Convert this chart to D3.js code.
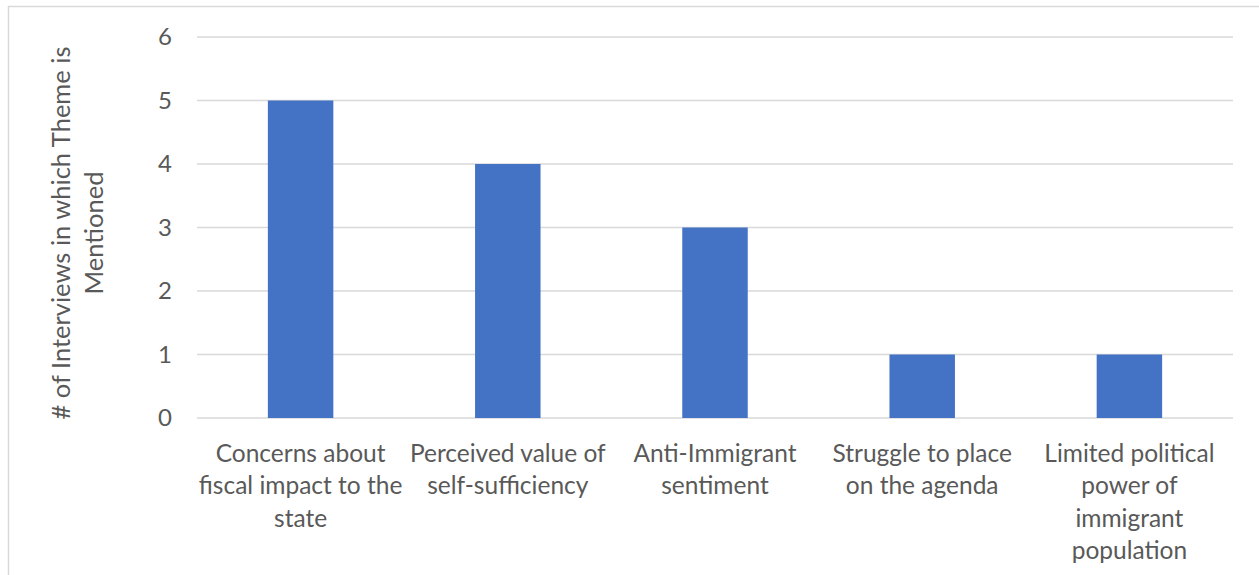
<!DOCTYPE html>
<html>
<head>
<meta charset="utf-8">
<script src="https://cdn.jsdelivr.net/npm/d3@7"></script>
<style>
  html, body { margin: 0; padding: 0; background: #fff; }
  svg { display: block; }
</style>
</head>
<body>
<div id="chart"></div>
<script>
// Chart data
const categories = [
    ['Concerns about', 'fiscal impact to the', 'state'],
    ['Perceived value of', 'self-sufficiency'],
    ['Anti-Immigrant', 'sentiment'],
    ['Struggle to place', 'on the agenda'],
    ['Limited political', 'power of', 'immigrant', 'population']
];
const values = [5, 4, 3, 1, 1];
const yTicks = [0, 1, 2, 3, 4, 5, 6];
const yTitle = ['# of Interviews in which Theme is', 'Mentioned'];

const width = 1259;
const height = 575;
const margin = { top: 37, right: 26, bottom: 157, left: 197 };
const fontFamily = 'Lato, "Open Sans", sans-serif';
const textColor = '#595959';

const svg = d3.select('#chart').append('svg')
    .attr('width', width)
    .attr('height', height);

// Outer frame (chart area border)
svg.append('rect')
    .attr('x', 8.5)
    .attr('y', 6.5)
    .attr('width', width)
    .attr('height', height)
    .attr('fill', 'none')
    .attr('stroke', '#d9d9d9')
    .attr('stroke-width', 1.5);

const x = d3.scaleBand()
    .domain(d3.range(categories.length))
    .range([margin.left, width - margin.right])
    .padding(0);

const y = d3.scaleLinear()
    .domain([0, 6])
    .range([height - margin.bottom, margin.top]);

// Gridlines
svg.append('g')
    .selectAll('line')
    .data(yTicks)
    .enter()
    .append('line')
    .attr('x1', margin.left)
    .attr('x2', width - margin.right)
    .attr('y1', d => y(d))
    .attr('y2', d => y(d))
    .style('stroke', '#d9d9d9')
    .style('stroke-width', 1.5);

// Y tick labels
svg.append('g')
    .selectAll('text')
    .data(yTicks)
    .enter()
    .append('text')
    .attr('x', 172)
    .attr('y', d => y(d))
    .attr('dy', '0.35em')
    .attr('text-anchor', 'end')
    .style('font-family', fontFamily)
    .style('font-size', '24px')
    .style('fill', textColor)
    .text(d => d);

// Bars
const barWidth = x.bandwidth() * 0.316;
svg.append('g')
    .selectAll('rect')
    .data(values)
    .enter()
    .append('rect')
    .attr('x', (d, i) => x(i) + x.bandwidth() / 2 - barWidth / 2)
    .attr('y', d => y(d))
    .attr('width', barWidth)
    .attr('height', d => y(0) - y(d))
    .style('fill', '#4472c4');

// Category labels
const labels = svg.append('g')
    .selectAll('text')
    .data(categories)
    .enter()
    .append('text')
    .attr('x', (d, i) => x(i) + x.bandwidth() / 2)
    .attr('y', 453)
    .attr('text-anchor', 'middle')
    .style('font-family', fontFamily)
    .style('font-size', '24.5px')
    .style('fill', textColor);

labels.selectAll('tspan')
    .data(d => d)
    .enter()
    .append('tspan')
    .attr('x', function() { return this.parentNode.getAttribute('x'); })
    .attr('y', (d, i) => 453 + i * 32.5)
    .attr('dy', '0.35em')
    .text(d => d);

// Y axis title
svg.append('text')
    .attr('transform', 'translate(61,233) rotate(-90)')
    .attr('text-anchor', 'middle')
    .style('font-family', fontFamily)
    .style('font-size', '25.5px')
    .style('fill', textColor)
    .selectAll('tspan')
    .data(yTitle)
    .enter()
    .append('tspan')
    .attr('x', 0)
    .attr('y', (d, i) => i * 33.5)
    .attr('dy', '0.35em')
    .text(d => d);
</script>
</body>
</html>
